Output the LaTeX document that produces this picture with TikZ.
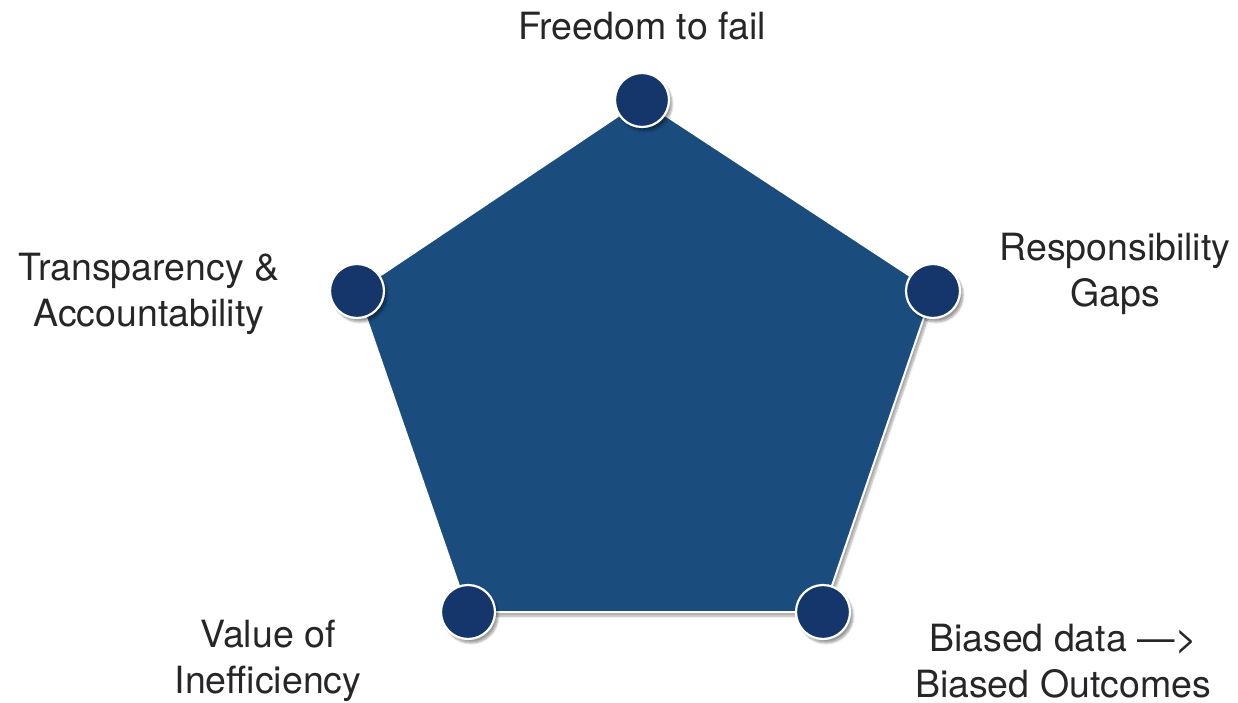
\documentclass[tikz,border=0pt]{standalone}
\usepackage{fontspec}
\setmainfont{TeX Gyre Heros}
\usetikzlibrary{shadows,shadows.blur}
\definecolor{pentblue}{HTML}{1A4C7E}
\definecolor{dotblue}{HTML}{15366A}
\tikzset{
  dot/.style={circle, fill=dotblue, draw=white, line width=2.2pt, minimum size=54pt, inner sep=0pt,
    blur shadow={shadow xshift=3pt, shadow yshift=-4pt, shadow blur steps=8, shadow opacity=40}},
  lbl/.style={align=center, font=\fontsize{37.5}{46}\selectfont, text=black!85, inner sep=0pt}
}
\begin{document}
\begin{tikzpicture}[x=1pt,y=-1pt]
\useasboundingbox (0,0) rectangle (1238,703);
\coordinate (T) at (642,100);
\coordinate (R) at (933,291);
\coordinate (BR) at (823,612);
\coordinate (BL) at (468,612);
\coordinate (L) at (357,291);
\path[fill=pentblue, draw=white, line width=2pt,
  blur shadow={shadow xshift=3pt, shadow yshift=-4pt, shadow blur steps=8, shadow opacity=35}]
  (T) -- (R) -- (BR) -- (BL) -- (L) -- cycle;
\node[dot] (nT) at (T) {};
\node[dot] (nR) at (R) {};
\node[dot] (nBR) at (BR) {};
\node[dot] (nBL) at (BL) {};
\node[dot] (nL) at (L) {};
\node[lbl] (tT) at (642,26) {Freedom to fail};
\node[lbl] (tL) at (149,294) {Transparency \&\\Accountability};
\node[lbl] (tR) at (1115,274) {Responsibility\\Gaps};
\node[lbl] (tBL) at (268,661) {Value of\\Inefficiency};
\node[lbl] (tBR) at (1063,661) {Biased data —>\\Biased Outcomes};
\end{tikzpicture}
\end{document}
